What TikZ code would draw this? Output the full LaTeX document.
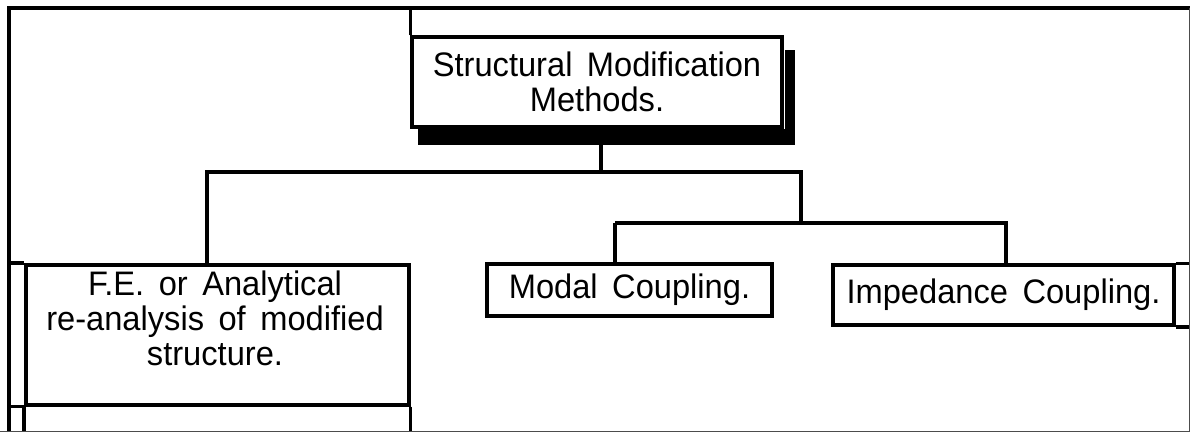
\documentclass[tikz,border=0pt]{standalone}
\usepackage{fontspec}
\setmainfont{Liberation Sans}[WordSpace=1.6, FakeStretch=0.96]
\tikzset{
  box/.style={draw, line width=3.5pt, align=center, inner sep=0pt,
    font=\fontsize{34}{35}\selectfont},
  boxtext/.style={align=center, inner sep=0pt, font=\fontsize{34}{35}\selectfont},
  link/.style={line width=3.5pt},
  edge/.style={line width=1pt, black!70}
}

\begin{document}
\begin{tikzpicture}[x=1pt, y=-1pt]
  \useasboundingbox (0,0) rectangle (1190,432);

  \coordinate (frameTL) at (9,8);
  \coordinate (frameTR) at (1190,8);

  \fill (418,129) rectangle (795,145);
  \fill (785,50) rectangle (795,145);
  \node[box, fill=white, minimum width=370, minimum height=90] (methods) at (597,82)
    {Structural Modification\\Methods.};

  \node[box, minimum width=383, minimum height=140, anchor=north west] (fe) at (24,263) {};
  \node[boxtext] (fetext) at (215,318) {F.E. or Analytical\\re-analysis of modified\\structure.};
  \node[box, minimum width=285, minimum height=52] (modal) at (629.5,290) {Modal Coupling.};
  \node[box, minimum width=341, minimum height=60] (imp) at (1003.5,295) {Impedance Coupling.};

  \coordinate (split) at (601,172);
  \coordinate (feJoin) at (207,172);
  \coordinate (cplJoin) at (801,172);
  \coordinate (modalJoin) at (615,223);
  \coordinate (impJoin) at (1006,223);

  \draw[link] (frameTL |- 0,432) -- (frameTL) -- (frameTR);
  \draw[link] (methods.north west) -- (methods.north west |- frameTL);
  \draw[link] (split |- methods.south) -- (split);
  \draw[link] (feJoin |- fe.north) -- (feJoin) -- (cplJoin) |- (modalJoin);
  \draw[link] (modalJoin) -- (modalJoin |- modal.north);
  \draw[link] (cplJoin |- modalJoin) -- (impJoin) -- (impJoin |- imp.north);
  \draw[link] (fe.north west) -- (fe.north west -| frameTL);
  \draw[link] (fe.south west) -- (fe.south west -| frameTL);
  \draw[link] (fe.south west) -- (fe.south west |- 0,432);
  \draw[link] (fe.south east) -- (fe.south east |- 0,432);
  \draw[link] (imp.north east) -- (imp.north east -| frameTR);
  \draw[link] (imp.south east) -- (imp.south east -| frameTR);
  \draw[edge] (1189,8) -- (1189,432);
  \draw[edge] (0,431) -- (1190,431);
\end{tikzpicture}
\end{document}
